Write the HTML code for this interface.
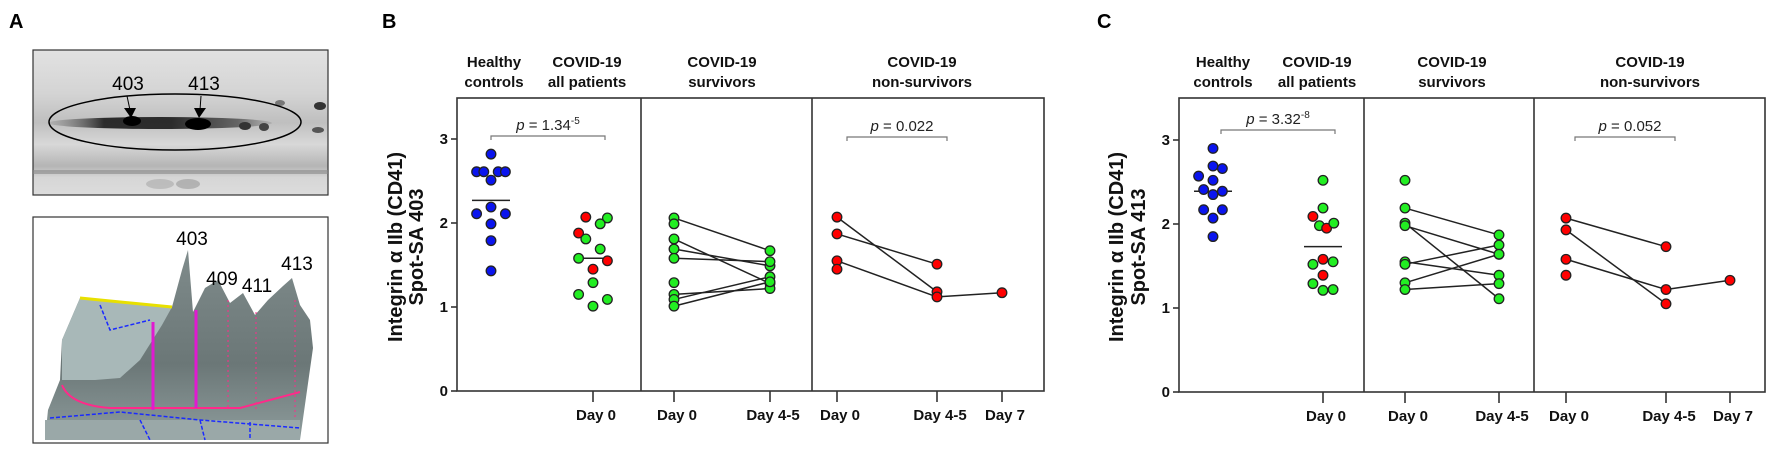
<!DOCTYPE html>
<html><head><meta charset="utf-8">
<style>
html,body{margin:0;padding:0;background:#fff;}
svg{display:block;font-family:"Liberation Sans",Arial,sans-serif;}
.hdr{font-weight:bold;font-size:15px;text-anchor:middle;fill:#111;}
.tk{font-weight:bold;font-size:15px;fill:#111;}
.pl{font-weight:bold;font-size:20px;fill:#000;}
</style></head>
<body>
<svg id="fig" width="1772" height="451" viewBox="0 0 1772 451" xmlns="http://www.w3.org/2000/svg">
<defs>
<linearGradient id="gelbg" x1="0" y1="0" x2="0" y2="1">
<stop offset="0" stop-color="#e2e2e2"/><stop offset="0.3" stop-color="#d4d4d4"/><stop offset="0.5" stop-color="#bfbfbf"/><stop offset="0.65" stop-color="#d8d8d8"/><stop offset="0.8" stop-color="#b5b5b5"/><stop offset="0.88" stop-color="#d6d6d6"/><stop offset="1" stop-color="#dcdcdc"/>
</linearGradient>
<linearGradient id="surf" x1="0" y1="0" x2="0" y2="1">
<stop offset="0" stop-color="#7f8b8b"/><stop offset="0.6" stop-color="#6b7777"/><stop offset="1" stop-color="#8e9c9c"/>
</linearGradient>
<linearGradient id="band" x1="0" y1="0" x2="1" y2="0">
<stop offset="0" stop-color="#888" stop-opacity="0.3"/><stop offset="0.25" stop-color="#111"/><stop offset="0.55" stop-color="#111"/><stop offset="0.85" stop-color="#555"/><stop offset="1" stop-color="#999" stop-opacity="0.5"/>
</linearGradient>
</defs>

<g>
<text class="pl" x="9" y="28">A</text>
<g>
<rect x="33" y="50" width="295" height="145" fill="url(#gelbg)" stroke="#333" stroke-width="1.2"/>
<ellipse cx="160" cy="123" rx="112" ry="6" fill="url(#band)" opacity="0.85"/>
<ellipse cx="132" cy="121" rx="9" ry="5" fill="#000"/>
<ellipse cx="198" cy="124" rx="13" ry="6" fill="#000"/>
<ellipse cx="245" cy="126" rx="6" ry="4" fill="#333"/>
<ellipse cx="264" cy="127" rx="5" ry="4" fill="#444"/>
<ellipse cx="320" cy="106" rx="6" ry="4" fill="#333"/>
<ellipse cx="280" cy="103" rx="5" ry="3" fill="#777"/>
<ellipse cx="318" cy="130" rx="6" ry="3" fill="#555"/>
<rect x="33" y="170" width="295" height="4" fill="#888" opacity="0.6"/>
<ellipse cx="160" cy="184" rx="14" ry="5" fill="#aaa" opacity="0.6"/>
<ellipse cx="188" cy="184" rx="12" ry="5" fill="#999" opacity="0.6"/>
<ellipse cx="175" cy="122" rx="126" ry="28" fill="none" stroke="#000" stroke-width="1.5"/>
<text x="128" y="90" font-size="19" text-anchor="middle" fill="#000">403</text>
<text x="204" y="90" font-size="19" text-anchor="middle" fill="#000">413</text>
<line x1="127" y1="96" x2="130" y2="110" stroke="#000" stroke-width="1"/>
<polygon points="124,108 136,108 131,118" fill="#000"/>
<line x1="201" y1="96" x2="200" y2="110" stroke="#000" stroke-width="1"/>
<polygon points="194,108 206,108 199,118" fill="#000"/>
</g>
<g>
<rect x="33" y="217" width="295" height="226" fill="#fff" stroke="#333" stroke-width="1.2"/>
<polygon points="80,298 172,307 182,270 188,250 193,312 205,288 218,280 230,303 243,293 255,315 268,300 283,286 292,278 300,305 310,320 313,348 300,440 45,440 48,410 60,380 62,340" fill="url(#surf)"/>
<polygon points="80,298 172,307 162,325 140,360 120,378 95,380 62,380 62,340" fill="#a8b8b8"/>
<polygon points="45,420 300,420 300,440 45,440" fill="#9aa8a8"/>
<path d="M80,298 L172,307" stroke="#e8e000" stroke-width="3" fill="none"/>
<path d="M62,385 Q70,405 110,408 L240,408 L300,392" stroke="#ff2a8a" stroke-width="2" fill="none"/>
<line x1="153" y1="322" x2="153" y2="410" stroke="#e01ad0" stroke-width="3"/>
<line x1="196" y1="310" x2="196" y2="408" stroke="#e01ad0" stroke-width="3"/>
<line x1="228" y1="300" x2="228" y2="410" stroke="#ff2a8a" stroke-width="1" stroke-dasharray="2,3"/>
<line x1="256" y1="312" x2="256" y2="412" stroke="#ff2a8a" stroke-width="1" stroke-dasharray="2,3"/>
<line x1="295" y1="300" x2="295" y2="420" stroke="#ff2a8a" stroke-width="1" stroke-dasharray="2,3"/>
<path d="M50,418 L120,412 L200,420 L300,428 M100,305 L110,330 L150,320 M140,420 L150,440 M200,420 L205,440 M250,422 L250,440" stroke="#1a2aff" stroke-width="1.5" fill="none" stroke-dasharray="4,2"/>
<text x="192" y="245" font-size="19" text-anchor="middle" fill="#000">403</text>
<text x="222" y="285" font-size="19" text-anchor="middle" fill="#000">409</text>
<text x="257" y="292" font-size="19" text-anchor="middle" fill="#000">411</text>
<text x="297" y="270" font-size="19" text-anchor="middle" fill="#000">413</text>
</g>
</g>

<text class="pl" x="382" y="28">B</text>
<text class="pl" x="1097" y="28">C</text>
<g id="panelB"></g>
<g id="panelC"></g>
</svg>

<script>
// ---------- Data: Panel B (Spot-SA 403) ----------
const yTicks = [0, 1, 2, 3];
const xTickLabels = ["Day 0", "Day 0", "Day 4-5", "Day 0", "Day 4-5", "Day 7"];
const groupHeaders = [["Healthy", "controls"], ["COVID-19", "all patients"], ["COVID-19", "survivors"], ["COVID-19", "non-survivors"]];

const bHealthy = [2.82, 2.61, 2.61, 2.61, 2.61, 2.51, 2.19, 2.11, 2.11, 1.99, 1.79, 1.43];
const bHealthySlot = [0, -2, -1, 1, 2, 0, 0, -2, 2, 0, 0, 0];
const bHealthyMean = 2.27;
const bAll = [2.07, 2.06, 1.99, 1.88, 1.81, 1.69, 1.58, 1.55, 1.45, 1.29, 1.15, 1.09, 1.01];
const bAllColor = ["r", "g", "g", "r", "g", "g", "g", "r", "r", "g", "g", "g", "g"];
const bAllSlot = [-1, 2, 1, -2, -1, 1, -2, 2, 0, 0, -2, 2, 0];
const bAllMedian = 1.58;
const bSurvDay0 = [2.06, 1.99, 1.81, 1.69, 1.58, 1.29, 1.15, 1.09, 1.01];
const bSurvDay45 = [1.67, null, 1.28, 1.49, 1.54, null, 1.22, 1.36, 1.30];
const bNonDay0 = [2.07, 1.87, 1.55, 1.45];
const bNonDay45 = [1.18, 1.51, 1.12, null];
const bNonDay7 = [null, null, 1.17, null];
const bPvalues = ["1.34", "-5", "0.022"];

// ---------- Data: Panel C (Spot-SA 413) ----------
const cHealthy = [2.90, 2.69, 2.66, 2.57, 2.52, 2.41, 2.39, 2.35, 2.17, 2.17, 2.07, 1.85];
const cHealthySlot = [0, 0, 1.3, -2, 0, -1.3, 1.3, 0, -1.3, 1.3, 0, 0];
const cHealthyMean = 2.39;
const cAll = [2.52, 2.19, 2.09, 1.98, 1.95, 2.01, 1.58, 1.52, 1.55, 1.39, 1.29, 1.21, 1.22];
const cAllColor = ["g", "g", "r", "g", "r", "g", "r", "g", "g", "r", "g", "g", "g"];
const cAllSlot = [0, 0, -1.4, -0.5, 0.5, 1.5, 0, -1.4, 1.4, 0, -1.4, 0, 1.4];
const cAllMean = 1.73;
const cSurvDay0 = [2.52, 2.19, 2.01, 1.98, 1.55, 1.52, 1.30, 1.22];
const cSurvDay45 = [null, 1.87, 1.11, 1.64, 1.39, 1.75, 1.64, 1.29];
const cNonDay0 = [2.07, 1.93, 1.58, 1.39];
const cNonDay45 = [1.73, 1.05, 1.22, null];
const cNonDay7 = [null, null, 1.33, null];
const cPvalues = ["3.32", "-8", "0.052"];

const NS = "http://www.w3.org/2000/svg";
const COL = { r: "#ff0000", g: "#22ee22", b: "#0a14ee" };

function mk(parent, tag, attrs, text) {
  const el = document.createElementNS(NS, tag);
  for (const k in attrs) el.setAttribute(k, attrs[k]);
  if (text !== undefined) el.textContent = text;
  parent.appendChild(el);
  return el;
}

function drawPanel(g, L, title, healthy, hSlot, hMean, all, allColor, allSlot, allMid,
                   s0, s45, n0, n45, n7, pv) {
  const y = v => L.y0 - v * L.unit;
  const sx = 7.2;
  let e;
  e = mk(g, "rect", { x: L.left, y: L.top, width: L.right - L.left, height: L.y0 - L.top, fill: "none", stroke: "#333", "stroke-width": 1.6 });
  
  
  [L.d1, L.d2].forEach(d => {
    e = mk(g, "line", { x1: d, y1: L.top, x2: d, y2: L.y0, stroke: "#333", "stroke-width": 1.6 });
    
    
  });
  yTicks.forEach(t => {
    mk(g, "line", { x1: L.left - 6, y1: y(t), x2: L.left, y2: y(t), stroke: "#333", "stroke-width": 1.6 });
    e = mk(g, "text", { x: L.left - 9, y: y(t) + 5, class: "tk", "text-anchor": "end" }, String(t));
    
    
  });
  const cy = 247;
  e = mk(g, "text", { transform: `translate(${L.yt1},${cy}) rotate(-90)`, "text-anchor": "middle", "font-weight": "bold", "font-size": "20", fill: "#111" });
  
  
  e.textContent = "Integrin \u03b1 IIb (CD41)";
  e = mk(g, "text", { transform: `translate(${L.yt2},${cy}) rotate(-90)`, "text-anchor": "middle", "font-weight": "bold", "font-size": "20", fill: "#111" }, title);
  
  
  L.xt.forEach((x, i) => {
    mk(g, "line", { x1: x, y1: L.y0, x2: x, y2: L.y0 + 11, stroke: "#333", "stroke-width": 1.6 });
    e = mk(g, "text", { x: x + 3, y: L.y0 + 29, class: "tk", "text-anchor": "middle" }, xTickLabels[i]);
    
    
  });
  groupHeaders.forEach((h, i) => {
    e = mk(g, "text", { x: L.hx[i], y: 67, class: "hdr" }, h[0]);
    
    
    mk(g, "text", { x: L.hx[i], y: 87, class: "hdr" }, h[1]);
  });
  function bracket(x1, x2, by, label, sup, name) {
    mk(g, "path", { d: `M${x1},${by + 4} V${by} H${x2} V${by + 4}`, fill: "none", stroke: "#777", "stroke-width": 1.2 });
    const t = mk(g, "text", { x: (x1 + x2) / 2 + (sup ? 0 : 5), y: by - 6, "text-anchor": "middle", "font-size": "15", fill: "#222" });
    
    
    mk(t, "tspan", { "font-style": "italic" }, "p");
    mk(t, "tspan", {}, " = " + label);
    if (sup) mk(t, "tspan", { "font-size": "10", dy: "-6" }, sup);
  }
  bracket(L.b1[0], L.b1[1], L.b1[2], pv[0], pv[1], "p-value-healthy-vs-all");
  bracket(L.b2[0], L.b2[1], L.b2[2], pv[2], null, "p-value-non-survivors");
  function pairLines(a, b, xa, xb) {
    a.forEach((v, i) => {
      if (v != null && b[i] != null) {
        const l = mk(g, "line", { x1: xa, y1: y(v), x2: xb, y2: y(b[i]), stroke: "#222", "stroke-width": 1.5 });
        
        
      }
    });
  }
  pairLines(s0, s45, L.xt[1], L.xt[2]);
  pairLines(n0, n45, L.xt[3], L.xt[4]);
  pairLines(n45, n7, L.xt[4], L.xt[5]);
  function dot(x, v, c, name) {
    const d = mk(g, "circle", { cx: x, cy: y(v), r: 4.8, fill: COL[c], stroke: "#222", "stroke-width": 1.3 });
    
    
  }
  const m1 = mk(g, "line", { x1: L.hc - 19, y1: y(hMean), x2: L.hc + 19, y2: y(hMean), stroke: "#222", "stroke-width": 1.5 });
  
  
  healthy.forEach((v, i) => dot(L.hc + hSlot[i] * sx, v, "b", "healthy-point"));
  const m2 = mk(g, "line", { x1: L.xt[0] - 19, y1: y(allMid), x2: L.xt[0] + 19, y2: y(allMid), stroke: "#222", "stroke-width": 1.5 });
  
  
  all.forEach((v, i) => dot(L.xt[0] + allSlot[i] * sx, v, allColor[i], "all-patients-point"));
  s0.forEach(v => { if (v != null) dot(L.xt[1], v, "g", "survivor-day0-point"); });
  s45.forEach(v => { if (v != null) dot(L.xt[2], v, "g", "survivor-day4-5-point"); });
  n0.forEach(v => { if (v != null) dot(L.xt[3], v, "r", "non-survivor-day0-point"); });
  n45.forEach(v => { if (v != null) dot(L.xt[4], v, "r", "non-survivor-day4-5-point"); });
  n7.forEach(v => { if (v != null) dot(L.xt[5], v, "r", "non-survivor-day7-point"); });
}

drawPanel(document.getElementById("panelB"),
  { left: 457, right: 1044, top: 98, y0: 391, unit: 84, d1: 641, d2: 812,
    xt: [593, 674, 770, 837, 937, 1002], hc: 491, hx: [494, 587, 722, 922],
    yt1: 402, yt2: 423, b1: [491, 605, 136], b2: [847, 947, 137] },
  "Spot-SA 403", bHealthy, bHealthySlot, bHealthyMean, bAll, bAllColor, bAllSlot, bAllMedian,
  bSurvDay0, bSurvDay45, bNonDay0, bNonDay45, bNonDay7, bPvalues);

drawPanel(document.getElementById("panelC"),
  { left: 1179, right: 1765, top: 98, y0: 392, unit: 84, d1: 1364, d2: 1534,
    xt: [1323, 1405, 1499, 1566, 1666, 1730], hc: 1213, hx: [1223, 1317, 1452, 1650],
    yt1: 1123, yt2: 1145, b1: [1221, 1335, 130], b2: [1575, 1675, 137] },
  "Spot-SA 413", cHealthy, cHealthySlot, cHealthyMean, cAll, cAllColor, cAllSlot, cAllMean,
  cSurvDay0, cSurvDay45, cNonDay0, cNonDay45, cNonDay7, cPvalues);
</script>
</body></html>
